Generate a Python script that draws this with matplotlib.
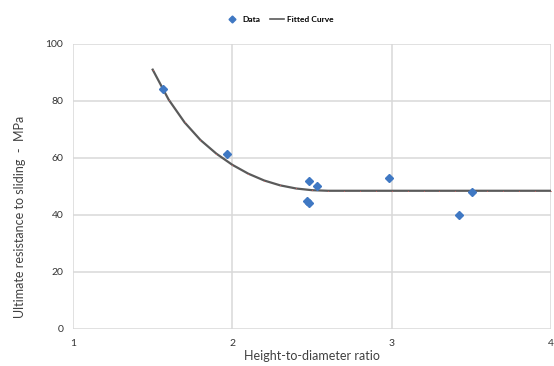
import matplotlib
matplotlib.use("Agg")
import matplotlib.pyplot as plt
from matplotlib.lines import Line2D

# Measured points
data_x = [1.567, 1.969, 2.481, 2.530, 2.467, 2.481, 2.986, 3.503, 3.425]
data_y = [84.3, 61.3, 52.0, 50.2, 45.0, 44.1, 52.9, 48.0, 40.0]

# Fitted curve, sampled every 0.1
curve_x = [1.5, 1.6, 1.7, 1.8, 1.9, 2.0, 2.1, 2.2, 2.3, 2.4, 2.5, 2.6, 2.7,
           2.8, 2.9, 3.0, 3.1, 3.2, 3.3, 3.4, 3.5, 3.6, 3.7, 3.8, 3.9, 4.0]
curve_y = [91.0, 80.5, 72.5, 66.3, 61.5, 57.6, 54.5, 52.1, 50.4, 49.3, 48.7,
           48.5, 48.5, 48.5, 48.5, 48.5, 48.5, 48.5, 48.5, 48.5, 48.5, 48.5,
           48.5, 48.5, 48.5, 48.5]

x_ticks = [1, 2, 3, 4]
y_ticks = [0, 20, 40, 60, 80, 100]

plt.rcParams['font.family'] = ['Lato', 'DejaVu Sans']

fig = plt.figure(figsize=(5.54, 3.66), dpi=100)
ax = fig.add_axes([0.1318, 0.1011, 0.8628, 0.7787])

blue = '#3f78c3'
grid_c = '#d9d9d9'

ax.plot(curve_x, curve_y, color='#5a5a5a', lw=1.6, zorder=3,
        solid_joinstyle='round')
ax.plot(curve_x, curve_y, linestyle='none', marker='o', markersize=0.8,
        markerfacecolor='#d86060', markeredgecolor='none', alpha=0.8, zorder=3.5)
ax.plot(data_x, data_y, linestyle='none', marker='D', markersize=4.4,
        color=blue, zorder=4)

ax.set_xlim(1, 4)
ax.set_ylim(0, 100)
ax.set_xticks(x_ticks)
ax.set_yticks(y_ticks)
ax.grid(True, color=grid_c, lw=1.1)
ax.set_axisbelow(True)
for s in ax.spines.values():
    s.set_visible(False)
ax.tick_params(length=0, labelsize=7.5, colors='#333333', pad=7)

ax.set_xlabel('Height-to-diameter ratio', fontsize=9, color='#404040', labelpad=2)
ax.set_ylabel('Ultimate resistance to sliding  -  MPa', fontsize=9,
              color='#404040')
ax.yaxis.set_label_coords(-0.098, 0.395)

handles = [
    Line2D([], [], linestyle='none', marker='D', markersize=3.5, color=blue),
    Line2D([], [], color='#5a5a5a', lw=1.2),
]
fig.legend(handles, ['Data', 'Fitted Curve'], loc='center',
           bbox_to_anchor=(0.505, 0.948), ncol=2, frameon=False,
           prop={'size': 6, 'weight': 'bold'}, handlelength=1.6,
           columnspacing=1.2, handletextpad=0.4)

fig.savefig('out.png', dpi=100)
